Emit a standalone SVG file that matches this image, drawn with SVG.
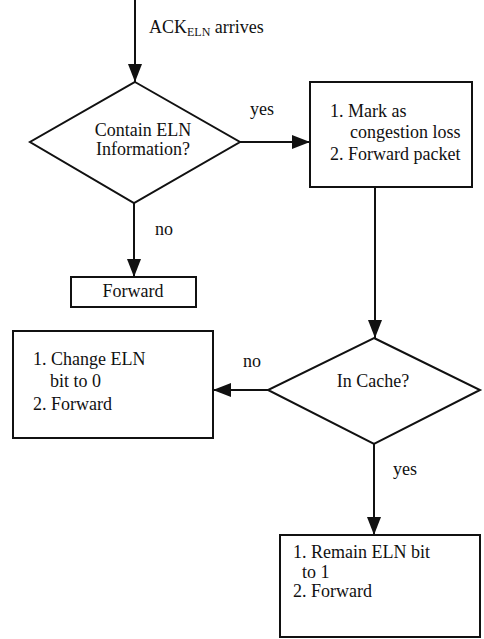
<svg xmlns="http://www.w3.org/2000/svg" width="484" height="639" viewBox="0 0 484 639" font-family="'Liberation Serif', 'Times New Roman', 'DejaVu Serif', serif">
<style>
.s{fill:#fff;stroke:#111;stroke-width:2}
.c{fill:none;stroke:#111;stroke-width:2}
text{font-family:'Liberation Serif','Times New Roman','DejaVu Serif',serif;fill:#111;font-size:18px}
.m{text-anchor:middle}
</style>
<defs>
<marker id="ah" markerUnits="userSpaceOnUse" markerWidth="18" markerHeight="14" refX="18" refY="7" orient="auto">
<path d="M0,0 L18,7 L0,14 z" fill="#111"/>
</marker>
</defs>
<rect width="484" height="639" fill="#fff"/>
<g id="connectors">
<line class="c" x1="135" y1="0" x2="135" y2="82" marker-end="url(#ah)"/>
<line class="c" x1="240" y1="142" x2="310" y2="142" marker-end="url(#ah)"/>
<line class="c" x1="134" y1="203" x2="134" y2="277" marker-end="url(#ah)"/>
<line class="c" x1="375" y1="187" x2="375" y2="338" marker-end="url(#ah)"/>
<line class="c" x1="268" y1="390" x2="213" y2="390" marker-end="url(#ah)"/>
<line class="c" x1="374" y1="444" x2="374" y2="535" marker-end="url(#ah)"/>
<text x="149" y="33">ACK<tspan font-size="12" dy="3">ELN</tspan><tspan dy="-3"> arrives</tspan></text>
<text x="250" y="115">yes</text>
<text x="155" y="235">no</text>
<text x="243" y="367">no</text>
<text x="393" y="475">yes</text>
</g>
<g id="decision1">
<polygon class="s" points="135,82 240,142 134,203 30,142"/>
<text class="m" x="143" y="136" font-size="16">Contain ELN</text>
<text class="m" x="143" y="155" font-size="16">Information?</text>
</g>
<g id="mark">
<rect class="s" x="310" y="82" width="162" height="105"/>
<text x="330" y="117">1. Mark as</text>
<text x="350" y="138">congestion loss</text>
<text x="330" y="160">2. Forward packet</text>
</g>
<g id="forward">
<rect class="s" x="71" y="277" width="125" height="30"/>
<text class="m" x="133" y="297">Forward</text>
</g>
<g id="decision2">
<polygon class="s" points="374,338 480,390 374,444 268,390"/>
<text class="m" x="373" y="387">In Cache?</text>
</g>
<g id="change">
<rect class="s" x="13" y="331" width="200" height="107"/>
<text x="33" y="365">1. Change ELN</text>
<text x="50" y="387">bit to 0</text>
<text x="33" y="410">2. Forward</text>
</g>
<g id="remain">
<rect class="s" x="280" y="535" width="200" height="102"/>
<text x="293" y="558">1. Remain ELN bit</text>
<text x="302" y="578">to 1</text>
<text x="293" y="597">2. Forward</text>
</g>
</svg>
